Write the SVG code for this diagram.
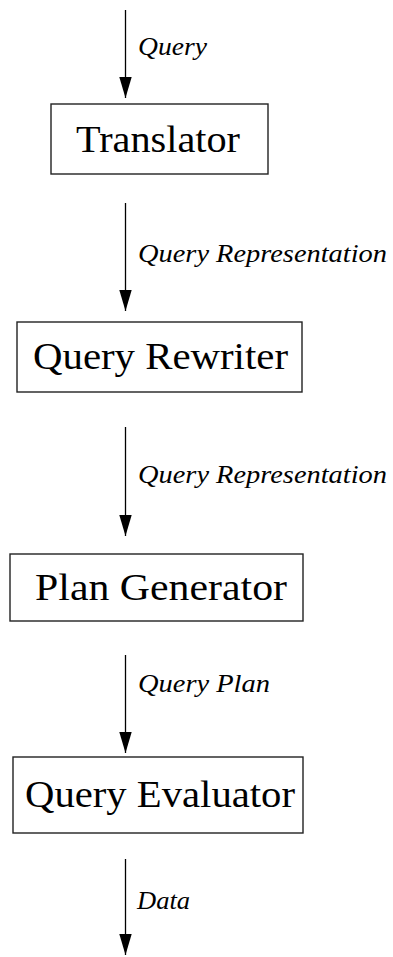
<svg xmlns="http://www.w3.org/2000/svg" width="393" height="957" viewBox="0 0 393 957">
  <style>
    .box { fill: #ffffff; stroke: #222222; stroke-width: 1.4; }
    .name { font-family: "Liberation Serif", "Times New Roman", serif; font-size: 37px; fill: #000000; }
    .edge { stroke: #000000; stroke-width: 1.3; fill: none; marker-end: url(#head); }
    .label { font-family: "Liberation Serif", "Times New Roman", serif; font-style: italic; font-size: 25px; fill: #000000; }
  </style>
  <defs>
    <!-- filled triangular arrowhead, 21 long and 12.5 wide, tip at the line end -->
    <marker id="head" markerUnits="userSpaceOnUse" markerWidth="22" markerHeight="14" viewBox="0 0 22 14" refX="21" refY="7" orient="auto">
      <path d="M0,0.8 L21,7 L0,13.2 Z" fill="#000000"/>
    </marker>
  </defs>
  <rect width="393" height="957" fill="#ffffff"/>

  <g id="connectors">
    <line class="edge" x1="125.5" y1="10" x2="125.5" y2="98"/>
    <text class="label" x="138" y="55" textLength="69" lengthAdjust="spacingAndGlyphs">Query</text>

    <line class="edge" x1="125.5" y1="203" x2="125.5" y2="311"/>
    <text class="label" x="138" y="262" textLength="249" lengthAdjust="spacingAndGlyphs">Query Representation</text>

    <line class="edge" x1="125.5" y1="427" x2="125.5" y2="536"/>
    <text class="label" x="138" y="483" textLength="249" lengthAdjust="spacingAndGlyphs">Query Representation</text>

    <line class="edge" x1="125.5" y1="655" x2="125.5" y2="753"/>
    <text class="label" x="138" y="692" textLength="132" lengthAdjust="spacingAndGlyphs">Query Plan</text>

    <line class="edge" x1="125.5" y1="859" x2="125.5" y2="955"/>
    <text class="label" x="137" y="909" textLength="53" lengthAdjust="spacingAndGlyphs">Data</text>
  </g>

  <g id="translator">
    <rect class="box" x="51" y="104" width="217" height="70"/>
    <text class="name" x="76" y="152" textLength="164" lengthAdjust="spacingAndGlyphs">Translator</text>
  </g>

  <g id="query-rewriter">
    <rect class="box" x="17" y="322" width="285" height="70"/>
    <text class="name" x="33" y="369" textLength="255" lengthAdjust="spacingAndGlyphs">Query Rewriter</text>
  </g>

  <g id="plan-generator">
    <rect class="box" x="10" y="554" width="293" height="67"/>
    <text class="name" x="35" y="600" textLength="252" lengthAdjust="spacingAndGlyphs">Plan Generator</text>
  </g>

  <g id="query-evaluator">
    <rect class="box" x="13" y="757" width="290" height="76"/>
    <text class="name" x="25" y="807" textLength="270" lengthAdjust="spacingAndGlyphs">Query Evaluator</text>
  </g>
</svg>
